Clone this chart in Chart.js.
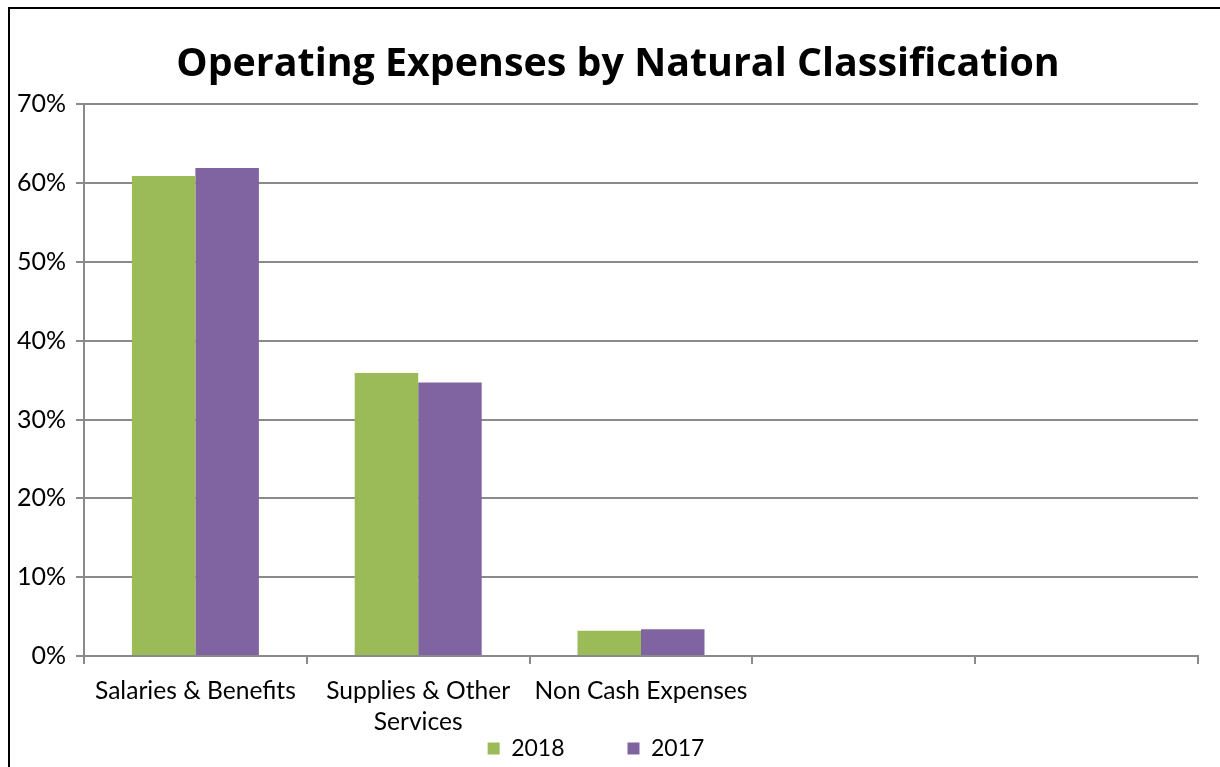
<!DOCTYPE html>
<html>
<head>
<meta charset="utf-8">
<script src="https://cdn.jsdelivr.net/npm/chart.js@4.4.1/dist/chart.umd.min.js"></script>
<style>
  body { margin: 0; background: #fff; overflow: hidden; }
  #wrap { position: relative; width: 1220px; height: 767px; }
  #frame { position: absolute; left: 8px; top: 7px; width: 1230px; height: 780px; border: 2px solid #000; box-sizing: border-box; }
  canvas { position: absolute; left: 0; top: 0; }
</style>
</head>
<body>
<div id="wrap">
  <div id="frame"></div>
  <canvas id="chart" width="1220" height="767"></canvas>
</div>
<script>
// data (percent of total)
let categories = ["Salaries & Benefits", ["Supplies & Other", "Services"], "Non Cash Expenses", "", ""];
let values2018 = [60.9, 35.9, 3.2];
let values2017 = [61.9, 34.7, 3.4];
let yTicks = [0, 10, 20, 30, 40, 50, 60, 70];

const gridColor = "#8a8a8a";
const font = "Lato, 'Open Sans', sans-serif";

// move title / legend a little, like Excel placed them
const nudge = {
  id: "nudge",
  afterLayout(chart) {
    if (chart.titleBlock) {
      chart.titleBlock.left += 19;
      chart.titleBlock.right += 19;
    }
    if (chart.legend) {
      chart.legend.left -= 3;
      chart.legend.right -= 3;
      chart.legend.top -= 73;
    }
  }
};

let ctx = document.getElementById("chart").getContext("2d");

let chart = new Chart(ctx, {
  type: "bar",
  data: {
    labels: categories,
    datasets: [
      { label: "2018", data: values2018, backgroundColor: "#9BBB59", borderWidth: 0 },
      { label: "2017", data: values2017, backgroundColor: "#8064A2", borderWidth: 0 }
    ]
  },
  options: {
    responsive: false,
    animation: false,
    layout: { padding: { left: 0, right: 22, top: 0, bottom: 0 } },
    datasets: { bar: { categoryPercentage: 0.57, barPercentage: 1.0 } },
    plugins: {
      title: {
        display: true,
        text: "Operating Expenses by Natural Classification",
        color: "#000",
        font: { family: "'Open Sans', sans-serif", size: 39.4, weight: "bold", lineHeight: 1.2 },
        padding: { top: 41, bottom: 16 }
      },
      legend: {
        position: "bottom",
        maxHeight: 20,
        labels: {
          color: "#000",
          font: { family: font, size: 23 },
          boxWidth: 12,
          boxHeight: 12,
          padding: 63
        }
      },
      tooltip: { enabled: false }
    },
    scales: {
      x: {
        afterFit: s => { s.height = 91; },
        grid: { drawOnChartArea: false, color: gridColor, lineWidth: 2, tickLength: 8, offset: true },
        border: { color: gridColor, width: 2 },
        ticks: {
          color: "#000",
          font: { family: font, size: 24.6, lineHeight: 1.27 },
          padding: 11,
          maxRotation: 0,
          autoSkip: false
        }
      },
      y: {
        min: 0,
        max: 70,
        afterFit: s => { s.width = 84; },
        afterBuildTicks: s => { s.ticks = yTicks.map(v => ({ value: v })); },
        grid: { color: gridColor, lineWidth: 2, tickLength: 8 },
        border: { color: gridColor, width: 2 },
        ticks: {
          color: "#000",
          font: { family: font, size: 25 },
          padding: 10,
          callback: v => v + "%"
        }
      }
    }
  },
  plugins: [nudge]
});
</script>
</body>
</html>
